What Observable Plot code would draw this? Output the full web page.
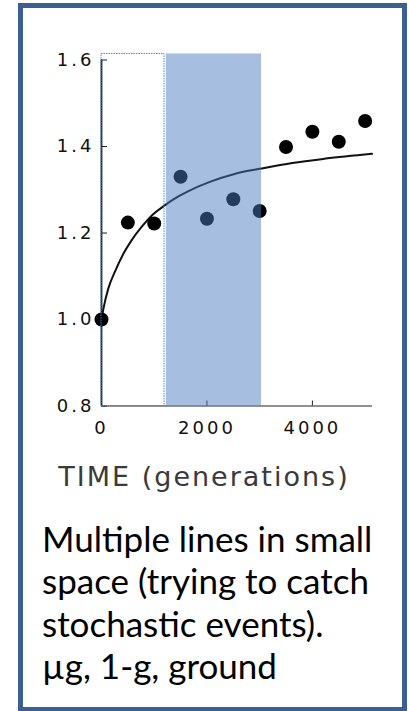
<!DOCTYPE html>
<html><head><meta charset="utf-8">
<script src="https://cdn.jsdelivr.net/npm/d3@7"></script>
<script src="https://cdn.jsdelivr.net/npm/@observablehq/plot@0.6"></script>
<style>
html,body{margin:0;padding:0;background:#fff;width:409px;height:711px;overflow:hidden;}
#frame{position:absolute;left:18px;top:3px;width:389px;height:709px;box-sizing:border-box;border:5px solid #3b5f8f;}
#chart{position:absolute;left:0;top:0;}
#chart svg{overflow:visible;}
#chart g[aria-label="x-axis tick label"] text,
#chart g[aria-label="y-axis tick label"] text{letter-spacing:3px;}
#chart g[aria-label="text"] text{letter-spacing:2px;}
#caption{position:absolute;left:42px;top:516.7px;font-family:Lato, "Open Sans", sans-serif;font-size:35px;line-height:42.5px;color:#000;white-space:pre;}
</style></head><body>
<div id="frame"></div>
<div id="chart"></div>
<div id="caption"></div>
<script>
// Observed fitness values (points)
const generations = [0, 500, 1000, 1500, 2000, 2500, 3000, 3500, 4000, 4500, 5000];
const fitness = [1.0, 1.224, 1.222, 1.330, 1.233, 1.278, 1.251, 1.399, 1.434, 1.411, 1.459];
// Fitted curve
const fitGen = [0, 40, 130, 260, 420, 570, 760, 950, 1200, 1450, 1650, 2030, 2540, 3030, 3620, 4250, 5130];
const fitVal = [1.0, 1.027, 1.072, 1.112, 1.153, 1.183, 1.214, 1.240, 1.264, 1.284, 1.297, 1.317, 1.337, 1.349, 1.362, 1.372, 1.383];
// Highlighted regions (generations) and their top value
const boxGen = [0, 1195];
const bandGen = [1230, 3035];
const regionTop = 1.614;
// Axes
const xDomain = [0, 5140];
const xTicks = [0, 2000, 4000];
const yTicks = [0.8, 1.0, 1.2, 1.4, 1.6];
const xLabel = "TIME (generations)";
const captionLines = ["Multiple lines in small", "space (trying to catch", "stochastic events).", "\u00b5g, 1-g, ground"];

const obs = generations.map((g, i) => ({g, v: fitness[i]}));
const fit = fitGen.map((g, i) => ({g, v: fitVal[i]}));
const yMin = d3.min(yTicks), yMax = d3.max(yTicks);

const chart = Plot.plot({
  width: 409, height: 500,
  marginLeft: 101, marginRight: 37, marginTop: 59.5, marginBottom: 94.5,
  x: {domain: xDomain},
  y: {domain: [yMin, yMax]},
  style: {fontFamily: "DejaVu Sans", fontSize: "18px", color: "#111", background: "transparent"},
  marks: [
    Plot.ruleX([0], {y1: yMin, y2: yMax, stroke: "#222", strokeWidth: 1.8}),
    Plot.ruleY([yMin], {stroke: "#222", strokeWidth: 1.2}),
    Plot.axisY(yTicks, {tickSize: -6, tickPadding: 13, tickFormat: d3.format(".1f"), label: null, stroke: "#222", fill: "#111"}),
    Plot.axisX(xTicks, {tickSize: -5, tickPadding: 20, tickFormat: d3.format("d"), label: null, stroke: "#222", fill: "#111"}),
    Plot.line(fit, {x: "g", y: "v", curve: "monotone-x", stroke: "#111", strokeWidth: 2}),
    Plot.dot(obs, {x: "g", y: "v", r: 7, fill: "#000"}),
    Plot.rect([0], {x1: bandGen[0], x2: bandGen[1], y1: yMin, y2: regionTop, fill: "#4a7cc0", fillOpacity: 0.49}),
    Plot.rect([0], {x1: boxGen[0], x2: boxGen[1], y1: yMin, y2: regionTop, fill: "none", stroke: "#3a8fd8", strokeWidth: 1, strokeDasharray: "1.5,1"}),
    Plot.text([xLabel], {text: d => d, frameAnchor: "bottom", dx: -33, dy: 80, fontSize: 27, fill: "#3a3a3a"})
  ]
});
document.getElementById("chart").appendChild(chart);
const cap = document.getElementById("caption");
captionLines.forEach(t => { const d = document.createElement("div"); d.textContent = t; cap.appendChild(d); });
</script>
</body></html>
